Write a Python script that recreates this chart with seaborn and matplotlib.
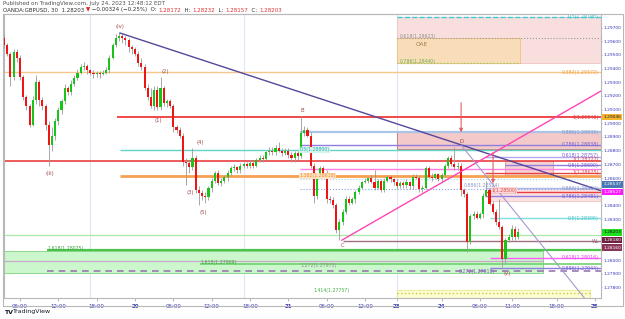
import matplotlib
matplotlib.use("Agg")
import matplotlib.pyplot as plt
from matplotlib.patches import Rectangle
from matplotlib.lines import Line2D
import numpy as np
import pandas as pd
import seaborn as sns

# ---------------- data ----------------
# half-hour slots, slot 0 = Jul 19 00:00 (weekend removed); first candle slot:
first_slot = 7
opens = [
1.2962, 1.2957, 1.2951, 1.2934, 1.2952, 1.2948, 1.2934, 1.2919, 1.2913, 1.2899,
1.2917, 1.2930, 1.2917, 1.2913, 1.2899, 1.2884, 1.2891, 1.2902, 1.2910, 1.2916,
1.2926, 1.2923, 1.2929, 1.2933, 1.2937, 1.2941, 1.2942, 1.2939, 1.2937, 1.2936,
1.2937, 1.2936, 1.2937, 1.2939, 1.2948, 1.2957, 1.2962, 1.2964, 1.2962, 1.2961,
1.2956, 1.2954, 1.2951, 1.2944, 1.2941, 1.2926, 1.2919, 1.2913, 1.2924, 1.2912,
1.2926, 1.2915, 1.2916, 1.2913, 1.2897, 1.2895, 1.2891, 1.2872, 1.2871, 1.2868,
1.2875, 1.2851, 1.2849, 1.2847, 1.2846, 1.2853, 1.2858, 1.2864, 1.2856, 1.2858,
1.2861, 1.2864, 1.2867, 1.2868, 1.2866, 1.2869, 1.2870, 1.2869, 1.2871, 1.2869,
1.2873, 1.2875, 1.2874, 1.2879, 1.2880, 1.2879, 1.2882, 1.2880, 1.2878, 1.2880,
1.2877, 1.2875, 1.2878, 1.2876, 1.2893, 1.2895, 1.2891, 1.2869, 1.2847, 1.2863,
1.2867, 1.2864, 1.2845, 1.2844, 1.2840, 1.2822, 1.2828, 1.2835, 1.2845, 1.2842,
1.2845, 1.2850, 1.2853, 1.2857, 1.2858, 1.2860, 1.2857, 1.2853, 1.2858, 1.2851,
1.2858, 1.2861, 1.2859, 1.2857, 1.2854, 1.2856, 1.2855, 1.2857, 1.2854, 1.2861,
1.2860, 1.2852, 1.2853, 1.2867, 1.2861, 1.2860, 1.2863, 1.2859, 1.2862, 1.2869,
1.2875, 1.2870, 1.2868, 1.2869, 1.2851, 1.2848, 1.2813, 1.2832, 1.2834, 1.2831,
1.2834, 1.2847, 1.2851, 1.2841, 1.2835, 1.2828, 1.2824, 1.2801, 1.2815, 1.2817,
1.2823, 1.28172]
highs = [
1.2965, 1.2959, 1.2952, 1.2954, 1.2954, 1.2950, 1.2935, 1.2921, 1.2914, 1.2920,
1.2935, 1.2932, 1.2919, 1.2914, 1.2902, 1.2897, 1.2904, 1.2912, 1.2918, 1.2929,
1.2927, 1.2932, 1.2935, 1.2940, 1.2943, 1.2945, 1.2943, 1.2940, 1.2939, 1.2938,
1.2938, 1.2939, 1.2941, 1.2950, 1.2959, 1.2965, 1.2967, 1.2965, 1.2964, 1.2962,
1.2957, 1.2956, 1.2953, 1.2948, 1.2943, 1.2929, 1.2926, 1.2927, 1.2927, 1.2934,
1.2927, 1.2918, 1.2918, 1.2914, 1.2899, 1.2897, 1.2893, 1.2875, 1.2873, 1.2882,
1.2877, 1.2854, 1.2851, 1.2850, 1.2854, 1.2860, 1.2865, 1.2866, 1.2860, 1.2862,
1.2866, 1.2869, 1.2870, 1.2869, 1.2871, 1.2872, 1.2872, 1.2873, 1.2873, 1.2875,
1.2877, 1.2877, 1.2880, 1.2883, 1.2883, 1.2884, 1.2886, 1.2882, 1.2882, 1.2882,
1.2879, 1.2880, 1.2880, 1.2905, 1.2898, 1.2897, 1.2894, 1.2871, 1.2864, 1.2869,
1.2869, 1.2866, 1.2847, 1.2846, 1.2842, 1.2830, 1.2837, 1.2847, 1.2847, 1.2846,
1.2851, 1.2855, 1.2858, 1.2860, 1.2861, 1.2862, 1.2866, 1.2859, 1.2859, 1.2860,
1.2862, 1.2862, 1.2860, 1.2859, 1.2858, 1.2858, 1.2859, 1.2858, 1.2863, 1.2863,
1.2862, 1.2855, 1.2869, 1.2869, 1.2864, 1.2864, 1.2864, 1.2864, 1.2870, 1.2876,
1.2877, 1.2883, 1.2872, 1.2871, 1.2853, 1.2850, 1.2834, 1.2836, 1.2836, 1.2835,
1.2849, 1.2858, 1.2853, 1.2843, 1.2837, 1.2845, 1.2826, 1.2816, 1.2819, 1.2826,
1.2825, 1.28232]
lows = [
1.2955, 1.2949, 1.2927, 1.2932, 1.2945, 1.2932, 1.2917, 1.2910, 1.2897, 1.2898,
1.2914, 1.2913, 1.2910, 1.2895, 1.2869, 1.2880, 1.2888, 1.2899, 1.2907, 1.2914,
1.2921, 1.2921, 1.2927, 1.2932, 1.2936, 1.2939, 1.2936, 1.2935, 1.2933, 1.2934,
1.2933, 1.2935, 1.2936, 1.2937, 1.2947, 1.2956, 1.2960, 1.2959, 1.2957, 1.2952,
1.2951, 1.2949, 1.2942, 1.2939, 1.2924, 1.2917, 1.2911, 1.2910, 1.2910, 1.2910,
1.2913, 1.2912, 1.2911, 1.2894, 1.2893, 1.2889, 1.2869, 1.2855, 1.2864, 1.2866,
1.2849, 1.2840, 1.2844, 1.2842, 1.2844, 1.2850, 1.2856, 1.2855, 1.2854, 1.2856,
1.2858, 1.2862, 1.2865, 1.2864, 1.2864, 1.2867, 1.2867, 1.2867, 1.2867, 1.2868,
1.2872, 1.2872, 1.2873, 1.2877, 1.2877, 1.2877, 1.2879, 1.2876, 1.2877, 1.2875,
1.2872, 1.2872, 1.2873, 1.2875, 1.2891, 1.2890, 1.2867, 1.2842, 1.2845, 1.2861,
1.2862, 1.2842, 1.2842, 1.2838, 1.2820, 1.2815, 1.2826, 1.2834, 1.2840, 1.2841,
1.2842, 1.2848, 1.2852, 1.2856, 1.2856, 1.2856, 1.2851, 1.2852, 1.2850, 1.2850,
1.2857, 1.2857, 1.2855, 1.2852, 1.2853, 1.2853, 1.2853, 1.2852, 1.2852, 1.2859,
1.2850, 1.2850, 1.2852, 1.2860, 1.2858, 1.2859, 1.2858, 1.2857, 1.2861, 1.2867,
1.2869, 1.2866, 1.2866, 1.2847, 1.2846, 1.2806, 1.2812, 1.2830, 1.2830, 1.2830,
1.2831, 1.2846, 1.2840, 1.2834, 1.2826, 1.2823, 1.2795, 1.2798, 1.2813, 1.2815,
1.2815, 1.28157]
closes = [
1.2957, 1.2951, 1.2934, 1.2952, 1.2948, 1.2934, 1.2919, 1.2913, 1.2899, 1.2917,
1.2930, 1.2917, 1.2913, 1.2899, 1.2884, 1.2891, 1.2902, 1.2910, 1.2916, 1.2926,
1.2923, 1.2929, 1.2933, 1.2937, 1.2941, 1.2942, 1.2939, 1.2937, 1.2936, 1.2937,
1.2936, 1.2937, 1.2939, 1.2948, 1.2957, 1.2962, 1.2964, 1.2962, 1.2961, 1.2956,
1.2954, 1.2951, 1.2944, 1.2941, 1.2926, 1.2919, 1.2913, 1.2924, 1.2912, 1.2926,
1.2915, 1.2916, 1.2913, 1.2897, 1.2895, 1.2891, 1.2872, 1.2871, 1.2868, 1.2875,
1.2851, 1.2849, 1.2847, 1.2846, 1.2853, 1.2858, 1.2864, 1.2856, 1.2858, 1.2861,
1.2864, 1.2867, 1.2868, 1.2866, 1.2869, 1.2870, 1.2869, 1.2871, 1.2869, 1.2873,
1.2875, 1.2874, 1.2879, 1.2880, 1.2879, 1.2882, 1.2880, 1.2878, 1.2880, 1.2877,
1.2875, 1.2878, 1.2876, 1.2893, 1.2895, 1.2891, 1.2869, 1.2847, 1.2863, 1.2867,
1.2864, 1.2845, 1.2844, 1.2840, 1.2822, 1.2828, 1.2835, 1.2845, 1.2842, 1.2845,
1.2850, 1.2853, 1.2857, 1.2858, 1.2860, 1.2857, 1.2853, 1.2858, 1.2851, 1.2858,
1.2861, 1.2859, 1.2857, 1.2854, 1.2856, 1.2855, 1.2857, 1.2854, 1.2861, 1.2860,
1.2852, 1.2853, 1.2867, 1.2861, 1.2860, 1.2863, 1.2859, 1.2862, 1.2869, 1.2875,
1.2870, 1.2868, 1.2869, 1.2851, 1.2848, 1.2813, 1.2832, 1.2834, 1.2831, 1.2834,
1.2847, 1.2851, 1.2841, 1.2835, 1.2828, 1.2824, 1.2801, 1.2815, 1.2817, 1.2823,
1.2817, 1.28203]

time_ticks = [12, 24, 36, 48, 60, 72, 84, 96, 108, 120, 130, 144, 156, 166, 180, 192]
time_labels = ["06:00", "12:00", "18:00", "20", "06:00", "12:00", "18:00", "21",
               "06:00", "12:00", "23", "24", "06:00", "11:00", "18:00", "25"]
session_breaks = [34, 82, 130]

price_ticks = [1.278, 1.279, 1.280, 1.283, 1.284, 1.286, 1.287, 1.288, 1.289,
               1.290, 1.291, 1.292, 1.293, 1.294, 1.295, 1.296, 1.297]

# price tags on the scale
tag_values = [1.29046, 1.28537, 1.28527, 1.28203, 1.28180, 1.28160]
tag_texts = ["1.29046", "1.28537", "1.28527", "1.28203", "1.28180", "1.28160"]

# horizontal levels: price, start slot, end slot
level_prices = [1.29777, 1.29623, 1.29440, 1.29372, 1.29046, 1.28936, 1.28838,
                1.28808, 1.28757, 1.28727, 1.28695, 1.28666, 1.28635, 1.28612,
                1.28592, 1.28524, 1.28519, 1.28500, 1.28465, 1.28305, 1.28183,
                1.28139, 1.28075, 1.28016, 1.27993, 1.27970, 1.27942, 1.27920,
                1.27757]
level_from = [130, 130, 130, 7, 42.4, 99.7, 99.7, 43.3, 157.6, 7, 163.8, 99.7,
              157.6, 43.3, 99.7, 157.6, 99.7, 157.6, 157.6, 159.2, 7, 113.1,
              20.5, 159.2, 7, 68.4, 159.2, 20.5, 130]
level_to = [194, 194, 168.5, 194, 194, 194, 194, 194, 194, 194, 194, 194, 194,
            194, 194, 194, 194, 194, 194, 194, 194, 194, 194, 194, 175.7, 194,
            194, 194, 190.5]

# zones: slot0, slot1, price_low, price_high
zone_t0 = [130, 130, 130, 163.8, 159.2, 7, 130]
zone_t1 = [194, 168.5, 194, 178.9, 194, 175.7, 190.5]
zone_lo = [1.29440, 1.29440, 1.28812, 1.28621, 1.28431, 1.27905, 1.27720]
zone_hi = [1.29777, 1.29623, 1.28943, 1.28724, 1.28527, 1.28066, 1.27781]

# trend lines: (slot, price) -> (slot, price)
trend_t0 = [43.3, 112.7, 150.1]
trend_p0 = [1.29660, 1.28145, 1.28841]
trend_t1 = [193.9, 193.9, 189.5]
trend_p1 = [1.28507, 1.29236, 1.27700]

# wave labels
wave_text = ["(iii)", "(iv)", "(1)", "(2)", "(3)", "(4)", "(5)", "B", "C", "D", "(v)"]
wave_t = [21.4, 43.3, 55.2, 57.4, 65.2, 68.4, 69.3, 100.3, 113.1, 150.1, 164.5]
wave_p = [1.28636, 1.29704, 1.29024, 1.29382, 1.28497, 1.28863, 1.28351, 1.29090,
          1.28110, 1.28870, 1.27905]

# fib labels on the right end
right_lbl_p = [1.29784, 1.29372, 1.29046, 1.28936, 1.28848, 1.28766, 1.28734,
               1.28695, 1.28640, 1.28527, 1.28468, 1.28305, 1.28139, 1.28016,
               1.27942]
right_lbl_t = ["0.5(1.29798)", "0.382(1.29372)", "1(1.29046)", "0.886(1.28935)",
               "0.786(1.28838)", "0.618(1.28757)", "1(1.28727)", "0.5(1.28690)",
               "1(1.28625)", "0.886(1.28524)", "0.786(1.28481)", "0.5(1.28305)",
               "WL", "0.618(1.28016)", "0.886(1.27944)"]
# fib labels on the left end
left_lbl_x = [131, 131, 99.5, 99.5, 20.5, 68.4, 99.7, 149.5, 104, 151, 159.5]
left_lbl_p = [1.29633, 1.29450, 1.28618, 1.28808, 1.28085, 1.27980, 1.27960,
              1.27920, 1.27775, 1.28547, 1.28510]
left_lbl_t = ["0.618(1.29623)", "0.786(1.29440)", "1.382(1.28618)", "0.5(1.28800)",
              "1.618(1.28075)", "1.618(1.27989)", "1.272(1.27975)", "0.272(1.27913)",
              "1.414(1.27757)", "0.886(1.28524)", "1(1.28500)"]

# arrows (slot, price from, price to)
arrow_t = [150.1, 160.1]
arrow_from = [1.29170, 1.28804]
arrow_to = [1.28914, 1.28541]

# ---------------- style ----------------
sns.set_theme(style="white")
plt.rcParams['font.family'] = ['DejaVu Sans']

W, H = 625, 319
fig = plt.figure(figsize=(W / 100, H / 100), dpi=100)
fig.patch.set_facecolor("white")
ax = fig.add_axes([4 / W, 21 / H, 597 / W, 284 / H])
ax.set_facecolor("white")
ax.set_xlim(6.99, 193.9)
ax.set_ylim(1.27723, 1.29799)

df = pd.DataFrame({"open": opens, "high": highs, "low": lows, "close": closes})
df["slot"] = np.arange(first_slot, first_slot + len(df))
df["up"] = df["close"] >= df["open"]

# session breaks
for s in session_breaks:
    ax.axvline(s, color="#dfe8f4", lw=0.9, zorder=0)

# zones
zone_fc = ["#f9dede", "#f9ddb8", "#f3c9c9", "#f7d2d2", "#fbe1e1", "#ccf7cc", "#fdfdd2"]
zone_ec = ["#f2c4c4", "#f2c27a", "#b87878", "#d79a9a", "#f1c4c4", "#7fd27f", "#e7e78a"]
for a, b, lo, hi, fc, ec in zip(zone_t0, zone_t1, zone_lo, zone_hi, zone_fc, zone_ec):
    ax.add_patch(Rectangle((a, lo), b - a, hi - lo, facecolor=fc, edgecolor=ec,
                           lw=0.6, zorder=0.5))

# levels
lv_color = ["#3fc8d8", "#9a9a9a", "#8ccf6a", "#f6c68a", "#f04848", "#a9c4e6",
            "#8f7de0", "#62d3c4", "#b7a7f2", "#e84040", "#8f7de0", "#ff7fe0",
            "#e84040", "#f6a050", "#9fd7e0", "#a9b8f0", "#8aa0e0", "#e84040",
            "#8f7de0", "#7fe0e0", "#a8e8a8", "#a07080", "#4cc44c", "#ff5cff",
            "#c8a8c8", "#6fd26f", "#8f7de0", "#9a78b0", "#c8c840"]
lv_lw = [1.0, 0.8, 0.9, 1.0, 1.4, 1.6, 1.0, 1.0, 1.0, 1.2, 1.0, 1.0, 1.0, 2.0,
         0.8, 1.0, 0.8, 1.0, 1.0, 1.0, 0.9, 1.0, 1.6, 1.0, 0.9, 1.2, 1.0, 1.2, 1.0]
lv_ls = ["--", ":", ":", "-", "-", "-", "-", "-", "-", "-", "-", "-", "-", "-",
         ":", "-", ":", "-", "-", "-", "-", "-", "-", "-", "-", "-", "-", (0, (4, 3)), ":"]
for p, a, b, c, lw, ls in zip(level_prices, level_from, level_to, lv_color, lv_lw, lv_ls):
    ax.hlines(p, a, b, colors=c, lw=lw, linestyles=ls, zorder=1)

# candles
wick_col = "#9a9a9a"
ax.vlines(df["slot"], df["low"], df["high"], colors=wick_col, lw=0.6, zorder=3)
body_lo = df[["open", "close"]].min(axis=1)
body_h = (df["close"] - df["open"]).abs().clip(lower=0.00003)
colors = np.where(df["up"], "#18c418", "#ee1515")
ax.bar(df["slot"], body_h, bottom=body_lo, width=0.66, color=colors, lw=0, zorder=4)

# trend lines via seaborn
tl_colors = ["#55479a", "#ff45b5", "#a49ad0"]
tl_lw = [1.0, 1.0, 0.8]
for a, pa, b, pb, c, lw in zip(trend_t0, trend_p0, trend_t1, trend_p1, tl_colors, tl_lw):
    sns.lineplot(x=[a, b], y=[pa, pb], ax=ax, color=c, lw=lw, zorder=5)

# arrows
for t, pf, pt in zip(arrow_t, arrow_from, arrow_to):
    ax.annotate("", xy=(t, pt), xytext=(t, pf),
                arrowprops=dict(arrowstyle="-|>", color="#e06262", lw=0.8,
                                mutation_scale=5), zorder=6)

# wave labels
for s, t, p in zip(wave_text, wave_t, wave_p):
    ax.text(t, p, s, fontsize=3.8, color="#a04848", ha="center", va="center", zorder=7)

ax.text(137.8, 1.29579, "OAE", fontsize=4.2, color="#a07850", ha="center", va="center", zorder=7)

# right fib labels
rl_col = ["#3fc0d0", "#f0a040", "#e04545", "#8a98c8", "#7060d0", "#7060d0",
          "#e04545", "#7060d0", "#e04545", "#8a98c8", "#7060d0", "#40c0c8",
          "#906070", "#e040e0", "#7060d0"]
for p, s, c in zip(right_lbl_p, right_lbl_t, rl_col):
    ax.text(193.3, p, s, fontsize=3.4, color=c, ha="right", va="center", zorder=7)

ll_col = ["#909090", "#70b050", "#f08a30", "#30b0a0", "#40a040", "#40a040",
          "#909090", "#8060c0", "#40b040", "#8a98c8", "#e04545"]
ll_bg = [None, None, "#fde3c4", "#d2f3ee", None, None, None, None, None, None, "#fbd8d8"]
for x, p, s, c, bg in zip(left_lbl_x, left_lbl_p, left_lbl_t, ll_col, ll_bg):
    kw = {}
    if bg:
        kw["bbox"] = dict(boxstyle="square,pad=0.1", fc=bg, ec="none")
    ax.text(x, p, s, fontsize=3.3, color=c, ha="left", va="center", zorder=7, **kw)

# axes formatting
for sp in ax.spines.values():
    sp.set_color("#b8b8b8")
    sp.set_linewidth(0.8)
ax.yaxis.tick_right()
ax.set_yticks(price_ticks)
ax.set_yticklabels([f"{v:.5f}" for v in price_ticks])
ax.set_xticks(time_ticks)
ax.set_xticklabels(time_labels)
for lab in ax.get_xticklabels():
    if len(lab.get_text()) == 2:
        lab.set_fontweight("bold")
ax.tick_params(axis="y", which="both", right=True, left=False, length=1.0, width=0.5,
               pad=1.0, labelsize=3.2, labelcolor="#3535b8", color="#999999")
ax.tick_params(axis="x", which="both", bottom=True, length=2, width=0.5, pad=2.5,
               labelsize=4.0, labelcolor="#3535b8", color="#999999")
ax.grid(False)

# price tags
tag_bg = ["#f3b52e", "#4a78b4", "#ff18ff", "#1fe01f", "#6e2141", "#8a3458"]
tag_fg = ["#222222", "white", "white", "#111111", "white", "white"]
tag_shift = [0.0, -0.00018, 0.00030, 0.0, 0.00033, 0.00068]
for v, s, bg, fg, sh in zip(tag_values, tag_texts, tag_bg, tag_fg, tag_shift):
    ax.annotate(s, xy=(1.0, v - sh), xycoords=("axes fraction", "data"),
                xytext=(1.6, 0), textcoords="offset points", fontsize=3.2,
                color=fg, ha="left", va="center", annotation_clip=False,
                bbox=dict(boxstyle="square,pad=0.3", fc=bg, ec="none"), zorder=8)

# outer frame
fig.add_artist(Line2D([3 / W, 623 / W, 623 / W, 3 / W, 3 / W],
                      [1 - 14 / H, 1 - 14 / H, 1 - 306 / H, 1 - 306 / H, 1 - 14 / H],
                      color="#b8b8b8", lw=0.8, transform=fig.transFigure))

# header
fig.text(3 / W, 1 - 3.5 / H, "Published on TradingView.com, July 24, 2023 12:48:12 EDT",
         fontsize=4.0, color="#505050", ha="left", va="center")
fig.canvas.draw()
rend = fig.canvas.get_renderer()
segs = [("OANDA:GBPUSD, 30  1.28203 ", "#303030"), ("\u25bc", "#e02020"),
        (" \u22120.00324 (\u22120.25%)  O: ", "#303030"), ("1.28172", "#e03030"),
        ("  H: ", "#303030"), ("1.28232", "#e03030"), ("  L: ", "#303030"),
        ("1.28157", "#e03030"), ("  C: ", "#303030"), ("1.28203", "#e03030")]
xpos = 3 / W
for s, c in segs:
    t = fig.text(xpos, 1 - 10 / H, s, fontsize=4.0, color=c, ha="left", va="center")
    xpos += t.get_window_extent(renderer=rend).width / W

# footer logo
fig.text(4 / W, 1 - 312 / H, "TV", fontsize=4.5, fontweight="bold", color="#131722",
         ha="left", va="center")
fig.text(13 / W, 1 - 312 / H, "TradingView", fontsize=4.5, color="#131722",
         ha="left", va="center")

fig.savefig("out.png", dpi=100)
